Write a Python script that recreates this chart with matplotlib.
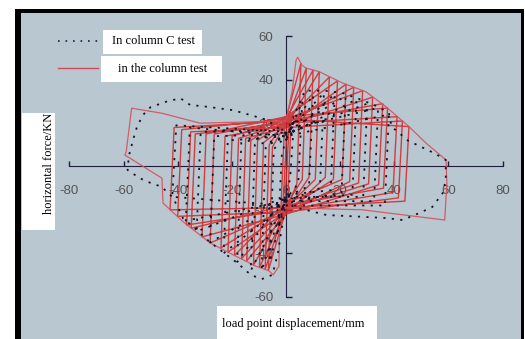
import matplotlib
matplotlib.use('Agg')
import matplotlib.pyplot as plt
from matplotlib.patches import Rectangle
from matplotlib.lines import Line2D

plt.rcParams['axes.unicode_minus'] = False

# ---- data (displacement mm, force kN) ----
# column test (red): cycles, positive side
red_pos_amp = [1.2, 2.0, 5.5, 7.5, 10, 12.3, 16, 19, 22.2, 25, 28.3, 32, 35.7, 37.5, 41, 43, 45.4]
red_pos_peak = [20, 24, 47.5, 45.4, 44.5, 43.7, 41.3, 39.5, 38, 36.6, 35, 32, 29, 27, 23, 21, 18.4]
red_pos_unload = [-15, -19, -8, -6, -5, -6, -5, -6, -6, -7, -7.6, -8, -8.5, -10, -12, -14.5, -16]
# negative side
red_neg_amp = [-1.2, -2.0, -6.5, -7.7, -9.8, -12, -14.5, -16.4, -19, -21.4, -24, -28, -31, -35, -36.7, -40, -42.8]
red_neg_peak = [-20, -23, -48, -47.5, -46.5, -45.5, -43.5, -42.5, -41, -39.5, -37.5, -35.3, -32.5, -28.5, -27, -23, -20]
red_neg_unload = [16, 20, 9, 10, 11, 12, 12, 13, 13, 14, 14, 15, 15, 15, 16, 17, 18]
red_pinch_top = [21, 22, 20, 22, 19, 21, 23, 18, 20, 22, 19, 21, 23, 20, 18, 22, 21]
red_pinch_bot = [-19, -20, -20, -18, -21, -19, -22, -20, -17, -21, -19, -20, -22, -18, -20, -21, -19]
# outer (last) loop of the column test
red_out_x = [0, 2.3, 3.7, 4.3, 5.9, 7.4, 12.2, 20.9, 24.6, 29.5, 36.9, 45.4, 51.7, 59.1,
             59.4, 58.6, 28.3, 0, -2.3, -2.6, -4.7, -6.5, -10.8, -18.2, -28, -38, -45.4,
             -45.8, -59.5, -59, -57, -45.9, -31.7, 0]
red_out_y = [21, 35, 49, 50.4, 46.8, 45.4, 43.8, 38.5, 36.8, 34.5, 27.6, 18.4, 10.8, 3,
             -7.6, -24.7, -20, -19, -22, -46, -50, -48, -46.2, -41.6, -35.3, -25.5, -16.9,
             -5.4, 5.3, 6.8, 26.9, 24.6, 20, 21]

# column C test (black dotted)
dot_pos_amp = [3, 6, 10, 14, 18, 22, 26, 30, 34, 38]
dot_pos_peak = [22, 30, 33, 34, 33.5, 32.5, 31, 29, 27, 24]
dot_pos_unload = [-6, -8, -9, -10, -11, -12, -13, -14, -16, -18]
dot_neg_amp = [-3, -6, -9, -13, -18, -23, -28, -33, -37, -42]
dot_neg_peak = [-30, -44, -48, -48, -44, -40, -35, -30, -25, -14]
dot_neg_unload = [6, 8, 9, 10, 11, 12, 14, 16, 18, 19]
dot_pinch_top = [12, 14, 15, 13, 16, 14, 15, 17, 14, 16]
dot_pinch_bot = [-12, -15, -14, -16, -13, -17, -15, -14, -16, -18]
dot_out_x = [0, 7, 14, 20.7, 28, 34, 38, 39, 45, 55, 59, 59, 58, 54, 49, 43, 37, 25, 15, 3,
             0, -3, -5, -9, -13, -18, -28, -35, -38, -40, -42, -46, -50, -54, -58.5, -58,
             -56.5, -55, -52.8, -50, -44, -39, -35.4, -29.3, -19.6, -13.3, -7, 0]
dot_out_y = [15, 35, 35, 34, 30.7, 27.6, 24.6, 18.4, 12, 6, 3, -6, -12, -18.7, -21.6, -24.7,
             -23.8, -23, -22.4, -18.7, -16, -40, -50, -52, -50, -44.5, -35, -27, -24, -18.5,
             -14, -9.3, -7.6, -5.4, -1.6, 5, 12.2, 18.4, 23.8, 27.4, 30, 31.5, 28.4, 27.6,
             26, 23.8, 21.5, 15]

x_ticks = [-80, -60, -40, -20, 0, 20, 40, 60, 80]
y_ticks = [-60, -40, -20, 20, 40, 60]

W, H = 525, 339


def loop_path(pos_amp, pos_peak, pos_unload, neg_amp, neg_peak, neg_unload, top, bot):
    """Chain the cycles into one polyline: pinch -> peak -> unload -> pinch ..."""
    xs, ys = [0], [top[0]]
    for i in range(len(pos_amp)):
        xs += [pos_amp[i], pos_amp[i] - 1.5, 0, neg_amp[i], neg_amp[i] + 1.5, 0]
        ys += [pos_peak[i], pos_unload[i], bot[i], neg_peak[i], neg_unload[i], top[i]]
    return xs, ys


fig = plt.figure(figsize=(W / 100, H / 100), dpi=100)

# black frame + panel
fig.patches.append(Rectangle((15 / W, 0), (524 - 15) / W, (H - 9) / H,
                             transform=fig.transFigure, facecolor='black',
                             edgecolor='none', zorder=-2))

ax = fig.add_axes([20.5 / W, 0, (521 - 20.5) / W, (H - 13) / H])
ax.set_facecolor('#b9c7d0')
ax.set_xlim((20.5 - 286) / 2.7083, (521 - 286) / 2.7083)
ax.set_ylim((166.5 - 339) / 2.1667, (166.5 - 13) / 2.1667)

# axes through the origin
axis_col = '#1e1e3c'
for side in ['top', 'right']:
    ax.spines[side].set_visible(False)
ax.spines['left'].set_position(('data', 0))
ax.spines['bottom'].set_position(('data', 0))
ax.spines['left'].set_bounds(-60, 60)
ax.spines['bottom'].set_bounds(-80, 80)
ax.spines['left'].set_color(axis_col)
ax.spines['bottom'].set_color(axis_col)
ax.set_xticks(x_ticks)
ax.set_yticks(y_ticks)
ax.tick_params(axis='x', direction='in', length=3.5, width=1, color=axis_col, pad=13,
               labelsize=9.5, labelcolor='#555555')
ax.tick_params(axis='y', direction='in', length=4, width=1, color=axis_col, pad=9,
               labelsize=9.5, labelcolor='#555555')
for lab in ax.get_xticklabels() + ax.get_yticklabels():
    lab.set_fontfamily('Liberation Sans')
ax.set_axisbelow(True)

# column test (red)
rx, ry = loop_path(red_pos_amp, red_pos_peak, red_pos_unload,
                   red_neg_amp, red_neg_peak, red_neg_unload, red_pinch_top, red_pinch_bot)
ax.plot(rx, ry, color='#d42626', lw=1.0, alpha=0.85, zorder=3)
ax.plot(red_out_x, red_out_y, color='#d6505e', lw=0.9, alpha=0.9, zorder=3)

# column C test (dotted)
dx, dy = loop_path(dot_pos_amp, dot_pos_peak, dot_pos_unload,
                   dot_neg_amp, dot_neg_peak, dot_neg_unload, dot_pinch_top, dot_pinch_bot)
ax.plot(dx, dy, color='#15152a', lw=1.3, ls=(0, (1.2, 3.5)), zorder=4)
ax.plot(dot_out_x, dot_out_y, color='#15152a', lw=1.3, ls=(0, (1.2, 3.5)), zorder=4)

# legend
fig.lines.append(Line2D([58 / W, 98 / W], [1 - 40.7 / H] * 2, transform=fig.transFigure,
                        color='#1e1e3c', lw=1.2, ls=(0, (1, 3.5)), zorder=5))
fig.lines.append(Line2D([58 / W, 98 / W], [1 - 68.3 / H] * 2, transform=fig.transFigure,
                        color='#d4485a', lw=1.0, zorder=5))


def white_box(x0, y0, x1, y1):
    fig.patches.append(Rectangle((x0 / W, 1 - y1 / H), (x1 - x0) / W, (y1 - y0) / H,
                                 transform=fig.transFigure, facecolor='white',
                                 edgecolor='none', zorder=5))


white_box(103, 30, 202, 54)
white_box(101, 56, 222, 82)
white_box(21.5, 113, 55, 230)
white_box(217, 306, 377, 339)

serif = 'Liberation Serif'
fig.text(111.5 / W, 1 - 41.5 / H, 'In column C test', family=serif, fontsize=9,
         va='center', ha='left', zorder=6)
fig.text(118 / W, 1 - 68.5 / H, 'in the column test', family=serif, fontsize=9,
         va='center', ha='left', zorder=6)
fig.text(49 / W, 1 - 163 / H, 'horizontal force/KN', family=serif, fontsize=9,
         rotation=90, va='center', ha='center', zorder=6)
fig.text(293 / W, 1 - 324 / H, 'load point displacement/mm', family=serif, fontsize=9,
         va='center', ha='center', zorder=6)

fig.savefig('out.png', dpi=100, facecolor='white')
